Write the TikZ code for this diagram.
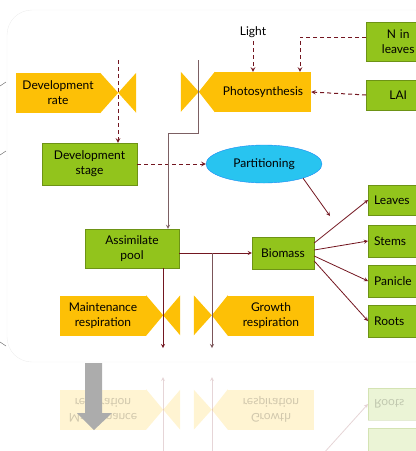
\documentclass[tikz,border=0pt]{standalone}
\usepackage{fontspec}
\setmainfont{Lato}
\usetikzlibrary{shapes.symbols}
\usetikzlibrary{positioning, calc, shapes.geometric}
\definecolor{boxgreen}{RGB}{146,196,28}
\definecolor{boxyellow}{RGB}{253,192,6}
\definecolor{partblue}{RGB}{40,196,240}
\definecolor{linered}{RGB}{115,22,32}

\begin{document}
\begin{tikzpicture}[x=1pt, y=-1pt, >=stealth,
    greenbox/.style={rectangle, fill=boxgreen, draw=boxgreen!75!black, align=center, font=\fontsize{12}{15}\selectfont, inner sep=1pt},
    organ/.style={greenbox, anchor=west, minimum width=62, minimum height=32, text width=50, inner xsep=4, align=left},
    ratebox/.style={rectangle, fill=boxyellow, align=center, font=\fontsize{12}{15}\selectfont, inner sep=1pt, minimum height=40, minimum width=86},
    valve/.style={fill=boxyellow},
    info/.style={draw=linered, line width=1pt, dash pattern=on 4pt off 3pt, ->},
    flow/.style={draw=linered, thick, ->}]
    \useasboundingbox (0,0) rectangle (416,451);
    \clip (0,0) rectangle (416,451);
    \draw[black!7, rounded corners=25] (7,10) rectangle (440,362);
    % odd ticks on the left edge
    \foreach \y/\d in {86/-4, 155/-4, 342/4} {
        \draw[gray!60!black] (0,\y) -- ++(6,\d);
    }

    % rates and valves
    \node[ratebox, minimum width=84] (devrate) at (58,93) {Development\\rate};
    \fill[valve] (devrate.north east) -- ++(18,20) coordinate (ratetip) -- (devrate.south east) -- cycle;
    \fill[valve] (ratetip) -- ++(18,-20) -- ++(0,40) -- cycle;
    \node[ratebox, minimum width=96] (photo) at (263,92) {Photosynthesis};
    \fill[valve] (photo.north west) -- ++(-16,20) coordinate (phototip) -- (photo.south west) -- cycle;
    \fill[valve] (phototip) -- ++(-18,-20) -- ++(0,40) -- cycle;
    \node[ratebox] (maint) at (103,315.5) {Maintenance\\respiration};
    \fill[valve] (maint.north east) -- ++(17,20) coordinate (mainttip) -- (maint.south east) -- cycle;
    \fill[valve] (mainttip) -- ++(17,-20) -- ++(0,40) -- cycle;
    \node[ratebox] (growth) at (271,315.5) {Growth\\respiration};
    \fill[valve] (growth.north west) -- ++(-16,20) coordinate (growthtip) -- (growth.south west) -- cycle;
    \fill[valve] (growthtip) -- ++(-18,-20) -- ++(0,40) -- cycle;

    % states
    \node[greenbox, minimum width=95, minimum height=42] (devstage) at (89.5,164) {Development\\stage};
    \node[greenbox, minimum width=94, minimum height=39] (assim) at (132,248.5) {Assimilate\\pool};
    \node[greenbox, minimum width=62, minimum height=32] (biomass) at (283,253) {Biomass};
    \node[greenbox, anchor=west, minimum width=64, minimum height=39, text width=46, align=center] (nleaves) at (366,41.5) {N in\\leaves};
    \node[greenbox, anchor=west, minimum width=64, minimum height=30, text width=46, align=center] (lai) at (366,95) {LAI};
    \node[organ, minimum height=30] (leaves) at (368,200) {Leaves};
    \node[organ] (stems) at (368,241) {Stems};
    \node[organ] (panicle) at (368,281) {Panicle};
    \node[organ] (roots) at (368,321) {Roots};
    \node[ellipse, fill=partblue, draw=partblue!70!blue, minimum width=116, minimum height=38, font=\fontsize{12}{15}\selectfont] (part) at (264,164) {Partitioning};
    \node[font=\fontsize{12}{15}\selectfont] (light) at (253,32) {Light};

    % information flows
    \coordinate (ratetop) at (118,60);
    \coordinate (nin) at (300,37);
    \draw[info] (ratetop) -- (ratetop |- devstage.north);
    \draw[info] (devstage.east) -- (part.west);
    \draw[info] (light.south) -- (light.south |- photo.north);
    \draw[info] (nleaves.west |- nin) -- (nin) -- (nin |- photo.north);
    \draw[info] (lai.west) -- (photo.east);
    \draw[info] ($(leaves.north)+(29,0)$) -- ($(leaves.north)+(29,0)$ |- lai.south);

    % material flows
    \coordinate (phtop) at (198,60);
    \coordinate (pooltop) at (168,133);
    \coordinate (maintout) at (163,348);
    \coordinate (growthout) at (212,348);
    \coordinate (partend) at (330,216);
    \draw[flow, draw=gray!70!linered] (phtop) |- (pooltop) -- (pooltop |- assim.north);
    \draw[flow] (assim.east |- biomass.west) -- (biomass.west);
    \draw[flow] (maintout |- assim.south) -- (maintout);
    \draw[flow, draw=gray!60!linered] (growthout |- biomass.west) -- (growthout);
    \draw[flow] (part.-20) -- (partend);
    \foreach \organ/\dy in {leaves/-10, stems/-3, panicle/3, roots/8} {
        \draw[flow] ($(biomass.east)+(0,\dy)$) -- (\organ.west);
    }

    % mirror image below
    \begin{scope}[shift={(0,725)}, yscale=-1, opacity=0.18, transform shape]
        \node[ratebox] (maintr) at (103,315.5) {Maintenance\\respiration};
        \fill[valve] (maintr.north east) -- ++(17,20) coordinate (mainttipr) -- (maintr.south east) -- cycle;
        \fill[valve] (mainttipr) -- ++(17,-20) -- ++(0,40) -- cycle;
        \node[ratebox] (growthr) at (271,315.5) {Growth\\respiration};
        \fill[valve] (growthr.north west) -- ++(-16,20) coordinate (growthtipr) -- (growthr.south west) -- cycle;
        \fill[valve] (growthtipr) -- ++(-18,-20) -- ++(0,40) -- cycle;
        \node[greenbox, anchor=west, minimum width=62, minimum height=32] (panicler) at (368,281) {};
        \node[organ] (rootsr) at (368,321) {Roots};
        \coordinate (biomassr) at (314,261);
        \draw[flow] (163,269) -- (163,348);
        \draw[flow] (212,253) -- (212,348);
        \draw[flow] (biomassr) -- (rootsr.west);
    \end{scope}

    % big grey arrow
    \fill[gray!65] (85,363) -- (102,363) -- (102,413) -- (112,413) -- (94,430) -- (77,413) -- (85,413) -- cycle;
\end{tikzpicture}
\end{document}
